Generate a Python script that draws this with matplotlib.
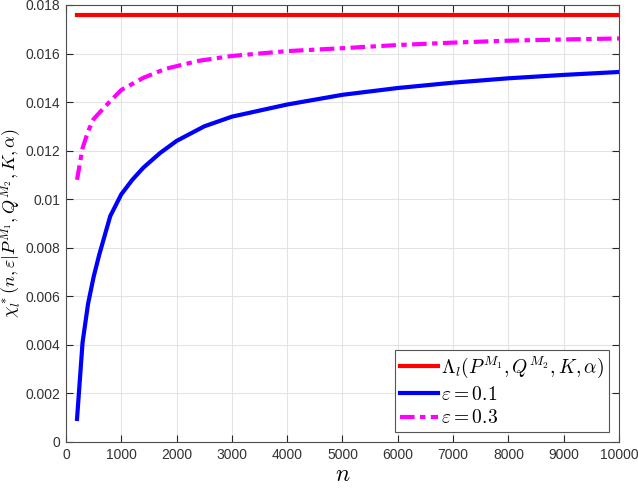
import matplotlib
matplotlib.use("Agg")
import matplotlib.pyplot as plt

plt.rcParams['mathtext.fontset'] = 'cm'
plt.rcParams['font.family'] = ['Liberation Sans', 'DejaVu Sans']

n_bound = [200, 10000]
bound_vals = [0.0176, 0.0176]

n_e1 = [200, 300, 400, 500, 600, 700, 800, 1000, 1200, 1400, 1700, 2000, 2500,
        3000, 3500, 4000, 4500, 5000, 6000, 7000, 8000, 9000, 10000]
vals_e1 = [0.00095, 0.0041, 0.0057, 0.0068, 0.0077, 0.0085, 0.0093, 0.0102, 0.0108,
           0.0113, 0.0119, 0.0124, 0.0130, 0.0134, 0.01365, 0.0139, 0.0141, 0.0143,
           0.01458, 0.0148, 0.01498, 0.01512, 0.01524]

n_e3 = [200, 300, 400, 500, 700, 1000, 1400, 1800, 2400, 3000, 4000, 5000, 6000,
        7000, 8000, 9000, 10000]
vals_e3 = [0.0108, 0.0121, 0.0128, 0.0133, 0.0138, 0.0145, 0.0150, 0.01537, 0.0157,
           0.0159, 0.0161, 0.01622, 0.01635, 0.01645, 0.01653, 0.01658, 0.01662]

xticks = [0, 1000, 2000, 3000, 4000, 5000, 6000, 7000, 8000, 9000, 10000]
yticks = [0, 0.002, 0.004, 0.006, 0.008, 0.01, 0.012, 0.014, 0.016, 0.018]
ytick_labels = ['0', '0.002', '0.004', '0.006', '0.008', '0.01', '0.012', '0.014', '0.016', '0.018']

fig = plt.figure(figsize=(6.38, 4.88), dpi=100)
ax = fig.add_axes([0.1034, 0.0943, 0.8668, 0.8955])

ax.plot(n_bound, bound_vals, color='#ff0000', lw=3,
        label=r'$\Lambda_l(P^{M_1},Q^{M_2},K,\alpha)$')
ax.plot(n_e1, vals_e1, color='#0000ff', lw=3, label=r'$\varepsilon=0.1$')
ax.plot(n_e3, vals_e3, color='#ff00ff', lw=3, dashes=[3.5, 1.3, 1.3, 1.3],
        label=r'$\varepsilon=0.3$')

ax.set_xlim(0, 10000)
ax.set_ylim(0, 0.018)
ax.set_xticks(xticks)
ax.set_xticklabels([str(t) for t in xticks])
ax.set_yticks(yticks)
ax.set_yticklabels(ytick_labels)

ax.grid(True, color='#e3e3e3', lw=0.8)
ax.set_axisbelow(True)
for s in ax.spines.values():
    s.set_color('#4d4d4d')
    s.set_linewidth(0.8)
ax.tick_params(direction='in', top=True, right=True, colors='#262626',
               labelsize=10, length=5, width=0.8, pad=4)
for lab in ax.get_xticklabels() + ax.get_yticklabels():
    lab.set_color('#333333')

ax.set_xlabel(r'$n$', fontsize=17, labelpad=2)
ax.set_ylabel(r'$\chi_l^*(n,\varepsilon|P^{M_1},Q^{M_2},K,\alpha)$', fontsize=13, labelpad=1)

leg = ax.legend(loc='lower right', fontsize=14, fancybox=False, framealpha=1,
                edgecolor='#555555', handlelength=2.0, handletextpad=0.15,
                borderpad=0.25, labelspacing=0.3, borderaxespad=0.5)
leg.get_frame().set_linewidth(0.8)

fig.savefig('out.png', dpi=100)
